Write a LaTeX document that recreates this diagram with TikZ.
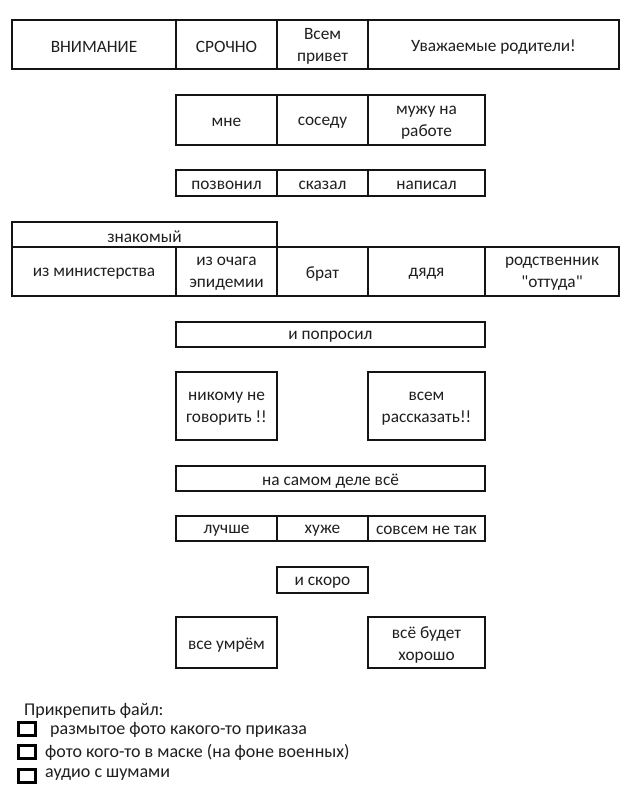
\documentclass[tikz,border=0pt]{standalone}
\usepackage{fontspec}
\setmainfont{Carlito}[Ligatures=TeXOff]
\newcommand\cellbox[6]{%
  \node[cell, minimum width={#4pt-#2pt}, minimum height={#5pt-#3pt}]
    (#1) at ({(#2+#4)/2},{(#3+#5)/2}) {};
  \node[celltext] (#1-t) at ([yshift=-2.3pt]#1.center) {#6};}
\begin{document}
\begin{tikzpicture}[x=1pt,y=-1pt,
  cell/.style={draw=black!92, line width=2.3pt, rectangle, inner sep=0pt},
  celltext/.style={inner sep=0pt, align=center,
    font=\fontsize{17.3}{22}\selectfont, text=black!88},
  cbox/.style={draw=black, line width=3pt, rectangle, inner sep=0pt,
    minimum width=17pt, minimum height=13pt},
  ltext/.style={anchor=west, inner sep=0pt, font=\fontsize{18}{20}\selectfont, text=black!88}]
\useasboundingbox[fill=white] (0,0) rectangle (629,800);
% row 1
\cellbox{a1}{12}{20}{176}{69}{ВНИМАНИЕ}
\cellbox{a2}{176}{20}{277}{69}{СРОЧНО}
\cellbox{a3}{277}{20}{368}{69}{Всем\\привет}
\cellbox{a4}{368}{20}{619}{69}{Уважаемые родители!}
% row 2
\cellbox{b1}{176}{95}{277}{145}{мне}
\cellbox{b2}{277}{95}{368}{145}{соседу}
\cellbox{b3}{368}{95}{485}{145}{мужу на\\работе}
% row 3
\cellbox{c1}{176}{170}{277}{196}{позвонил}
\cellbox{c2}{277}{170}{368}{196}{сказал}
\cellbox{c3}{368}{170}{485}{196}{написал}
% row 4
\cellbox{d0}{12}{222}{277}{247}{знакомый}
\cellbox{d1}{12}{247}{176}{296}{из министерства}
\cellbox{d2}{176}{247}{277}{296}{из очага\\эпидемии}
\cellbox{d3}{277}{247}{368}{296}{брат}
\cellbox{d4}{368}{247}{485}{296}{дядя}
\cellbox{d5}{485}{247}{619}{296}{родственник\\"оттуда"}
% row 5
\cellbox{e1}{176}{322}{485}{347}{и попросил}
\cellbox{f1}{176}{372}{277}{440}{никому не\\говорить !!}
\cellbox{f2}{368}{372}{485}{440}{всем\\рассказать!!}
\cellbox{g1}{176}{466}{485}{491}{на самом деле всё}
\cellbox{h1}{176}{516}{277}{541}{лучше}
\cellbox{h2}{277}{516}{368}{541}{хуже}
\cellbox{h3}{368}{516}{485}{541}{совсем не так}
\cellbox{i1}{277}{567}{368}{593}{и скоро}
\cellbox{j1}{176}{617}{277}{668}{все умрём}
\cellbox{j2}{368}{617}{485}{668}{всё будет\\хорошо}
% attachments
\node[ltext] (att) at (24,711) {Прикрепить файл:};
\node[cbox] (k1) at (26.5,729) {};
\node[cbox] (k2) at (26.5,752) {};
\node[cbox] (k3) at (26.5,775.5) {};
\node[ltext] (t1) at (50,730) {размытое фото какого-то приказа};
\node[ltext] (t2) at (45,752) {фото кого-то в маске (на фоне военных)};
\node[ltext] (t3) at (45,775) {аудио с шумами};
\end{tikzpicture}
\end{document}
